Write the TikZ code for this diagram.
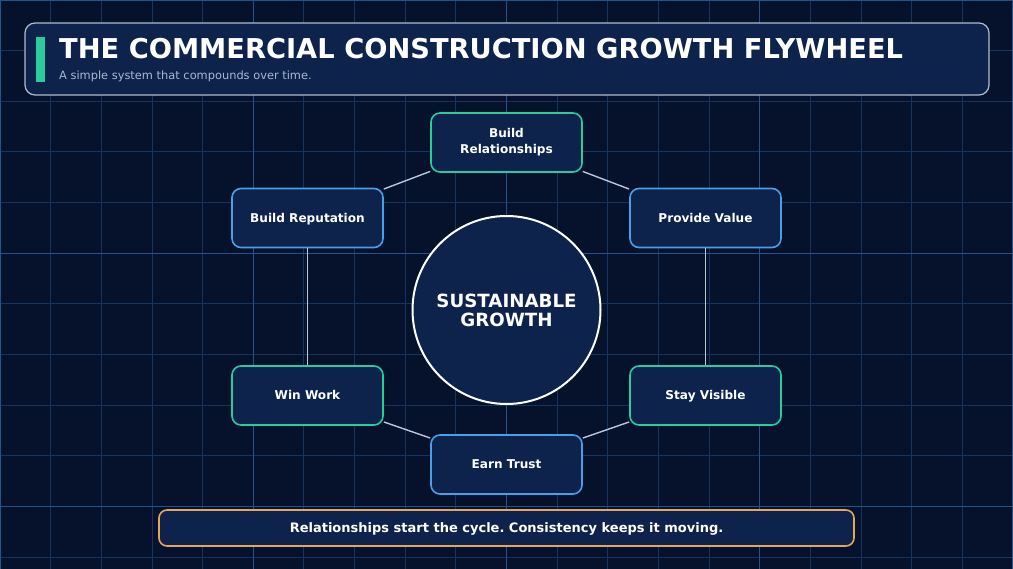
\documentclass[tikz,border=0pt]{standalone}
\usepackage{fontspec}
\setmainfont{DejaVu Sans}
\frenchspacing
\definecolor{bg}{HTML}{06122B}
\definecolor{gridminor}{HTML}{17335F}
\definecolor{gridmajor}{HTML}{25528C}
\definecolor{boxfill}{HTML}{0D234C}
\definecolor{greenb}{HTML}{2CCB9C}
\definecolor{blueb}{HTML}{4A9FE8}
\definecolor{orangeb}{HTML}{E8A55A}
\definecolor{linkc}{HTML}{BAC6DA}
\definecolor{subt}{HTML}{A9B8CF}
\definecolor{hdrborder}{HTML}{B0BCCE}
\tikzset{
  stepnode/.style={draw, rounded corners=9pt, line width=1.6pt, fill=boxfill,
    minimum width=151pt, minimum height=59pt, text=white, align=center, inner sep=0pt,
    font=\bfseries\fontsize{12.1}{16}\selectfont},
  oneline/.style={text height=8.8pt, text depth=0pt},
  greennode/.style={stepnode, draw=greenb},
  bluenode/.style={stepnode, draw=blueb},
  link/.style={draw=linkc, line width=1.4pt},
  minorline/.style={draw=gridminor, line width=0.9pt},
  majorline/.style={draw=gridmajor, line width=1.2pt}
}
\begin{document}
\begin{tikzpicture}[x=1pt,y=-1pt]
\fill[bg] (0,0) rectangle (1013,569);
\useasboundingbox (0,0) rectangle (1013,569);
% grid
\foreach \i in {0,...,20} {\draw[minorline] (\i*50.65,0) -- (\i*50.65,569);}
\foreach \j in {0,...,11} {\draw[minorline] (0,\j*50.65) -- (1013,\j*50.65);}
\foreach \i in {0,5,10,15,20} {\draw[majorline] (\i*50.65,0) -- (\i*50.65,569);}
\foreach \j in {0,5,10} {\draw[majorline] (0,\j*50.65) -- (1013,\j*50.65);}
% header
\node[draw=hdrborder, line width=1.2pt, rounded corners=10pt, fill=boxfill,
      minimum width=964pt, minimum height=72pt, inner sep=0pt] (header) at (507,59) {};
\fill[greenb] (36,37) rectangle (45,82);
\node[anchor=base west, inner sep=0pt, text=white, font=\bfseries\fontsize{27.3}{30}\selectfont] (title) at (59,59)
  {THE COMMERCIAL CONSTRUCTION GROWTH FLYWHEEL};
\node[anchor=base west, inner sep=0pt, text=subt, font=\fontsize{11.4}{14}\selectfont] (subtitle) at (59,80)
  {A simple system that compounds over time.};
% center circle
\node[circle, draw=white, line width=2pt, fill=boxfill, minimum size=188pt, inner sep=0pt,
      text=white, align=center, font=\bfseries\fontsize{18.2}{19}\selectfont] (core) at (506.5,310)
  {SUSTAINABLE\\GROWTH};
% steps
\node[greennode] (rel) at (506.5,142.5) {Build\\Relationships};
\node[bluenode, oneline] (val) at (705.5,218) {Provide Value};
\node[greennode, oneline] (vis) at (705.5,395.5) {Stay Visible};
\node[bluenode, oneline] (trust) at (506.5,464.5) {Earn Trust};
\node[greennode, oneline] (win) at (307.5,395.5) {Win Work};
\node[bluenode, oneline] (rep) at (307.5,218) {Build Reputation};
% links
\draw[link] (rep) -- (rel);
\draw[link] (rel) -- (val);
\draw[link] (val) -- (vis);
\draw[link] (vis) -- (trust);
\draw[link] (trust) -- (win);
\draw[link] (win) -- (rep);
% footer
\node[draw=orangeb, line width=1.6pt, rounded corners=8pt, fill=boxfill,
      minimum width=695pt, minimum height=36pt, inner sep=0pt, text=white,
      text height=9.5pt, text depth=0pt,
      font=\bfseries\fontsize{13}{15}\selectfont] (footer) at (506.5,528)
  {Relationships start the cycle. Consistency keeps it moving.};
\end{tikzpicture}
\end{document}
